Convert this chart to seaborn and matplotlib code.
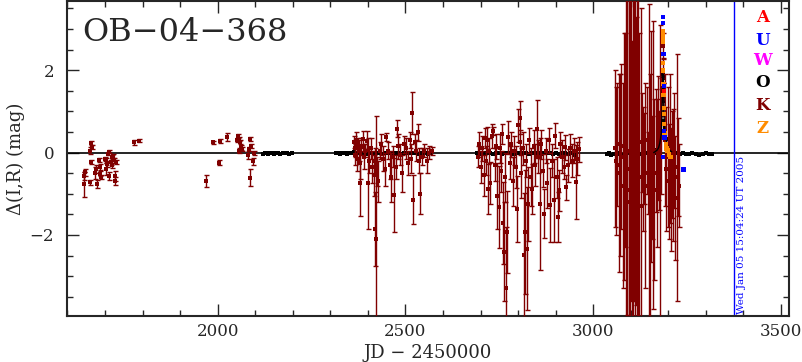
import numpy as np
import pandas as pd
import seaborn as sns
import matplotlib
matplotlib.use('Agg')
import matplotlib.pylab as plt
from matplotlib.ticker import MultipleLocator

# ---- K (dark red) season 1 ----
k1_jd = [1644, 1645, 1646, 1660, 1661, 1662, 1663, 1665, 1674, 1676,
         1680, 1683, 1686, 1687, 1690, 1700, 1702, 1704, 1706, 1709,
         1710, 1712, 1716, 1718, 1720, 1722, 1724, 1726, 1728, 1730,
         1778, 1791]
k1_mag = [-0.77, -0.56, -0.48, -0.72, 0.05, -0.23, 0.23, 0.13, -0.50, -0.40,
          -0.77, -0.19, -0.35, -0.51, -0.60, -0.15, -0.40, -0.19, -0.28, -0.03,
          0.02, -0.57, -0.23, -0.11, -0.31, -0.09, -0.19, -0.57, -0.69, -0.23,
          0.25, 0.29]
k1_err = [0.30, 0.10, 0.08, 0.06, 0.08, 0.05, 0.05, 0.05, 0.15, 0.10,
          0.10, 0.05, 0.08, 0.06, 0.05, 0.05, 0.15, 0.06, 0.08, 0.04,
          0.04, 0.10, 0.06, 0.05, 0.06, 0.05, 0.06, 0.12, 0.10, 0.05,
          0.06, 0.04]

# ---- K season 2 ----
k2_jd = [1969, 1987, 2003, 2006, 2025, 2052, 2055, 2056, 2058, 2060,
         2062, 2064, 2082, 2084, 2085, 2087, 2089, 2094, 2096]
k2_mag = [-0.69, 0.25, -0.25, 0.28, 0.37, 0.30, 0.41, 0.05, 0.33, 0.25,
          0.13, 0.09, -0.05, 0.09, -0.61, 0.33, 0.17, -0.21, 0.00]
k2_err = [0.15, 0.04, 0.06, 0.05, 0.10, 0.05, 0.05, 0.06, 0.05, 0.05,
          0.06, 0.05, 0.10, 0.05, 0.20, 0.06, 0.05, 0.08, 0.05]

# ---- K season 3 ----
k3_jd = [2362, 2365, 2367, 2369, 2371, 2373, 2376, 2378, 2380, 2383,
         2386, 2390, 2393, 2397, 2401, 2404, 2408, 2412, 2415, 2418,
         2420, 2421, 2424, 2428, 2431, 2435, 2440, 2445, 2449, 2453,
         2458, 2462, 2466, 2470, 2474, 2477, 2481, 2486, 2491, 2496,
         2501, 2506, 2511, 2515, 2517, 2521, 2525, 2529, 2533, 2537,
         2539, 2544, 2550, 2557, 2564, 2571]
k3_mag = [0.25, 0.10, -0.05, 0.30, -0.15, 0.20, 0.05, -0.25, -0.75, 0.15,
          0.32, -0.10, 0.05, 0.28, -0.75, -0.20, 0.10, -0.35, -0.55, -0.20,
          -1.85, -2.10, -0.45, -0.70, 0.05, 0.20, -0.15, -0.40, 0.37, 0.05,
          -0.30, -0.60, -0.10, -1.02, -0.35, 0.58, 0.15, -0.05, -0.50, 0.20,
          0.10, -0.25, 0.30, -0.15, 0.96, -1.14, 0.25, 0.05, 0.49, -0.20,
          -1.00, -0.10, 0.05, -0.20, 0.00, 0.03]
k3_err = [0.15, 0.20, 0.25, 0.20, 0.30, 0.15, 0.25, 0.40, 0.80, 0.20,
          0.20, 0.30, 0.15, 0.25, 1.10, 0.30, 0.25, 0.40, 0.50, 0.30,
          0.90, 3.00, 0.35, 0.50, 0.20, 0.25, 0.30, 0.40, 0.10, 0.20,
          0.35, 0.60, 0.25, 0.90, 0.30, 0.20, 0.30, 0.25, 0.45, 0.20,
          0.25, 0.30, 0.20, 0.35, 0.50, 0.60, 0.20, 0.25, 0.20, 0.30,
          0.50, 0.20, 0.15, 0.30, 0.15, 0.10]

# ---- K season 4 ----
k4_jd = [2692, 2696, 2700, 2704, 2708, 2712, 2715, 2717, 2719, 2722,
         2726, 2730, 2734, 2738, 2741, 2745, 2748, 2751, 2754, 2757,
         2760, 2762, 2765, 2768, 2771, 2774, 2778, 2782, 2786, 2790,
         2794, 2798, 2801, 2804, 2806, 2809, 2812, 2815, 2818, 2821,
         2824, 2827, 2830, 2834, 2837, 2841, 2845, 2850, 2854, 2857,
         2861, 2866, 2870, 2874, 2878, 2882, 2886, 2890, 2895, 2899,
         2903, 2905, 2909, 2912, 2917, 2922, 2926, 2928, 2933, 2938,
         2943, 2948, 2953, 2957, 2962]
k4_mag = [-0.10, 0.20, -0.35, 0.10, -0.55, 0.35, -0.20, 0.31, -0.88, 0.05,
          -0.74, 0.40, 0.52, -0.30, 0.15, -1.05, -1.32, 0.10, -0.45, 0.45,
          -1.71, -2.41, -0.60, -3.30, -1.93, 0.37, -0.25, 0.20, -0.70, 0.05,
          -0.35, -1.36, 0.66, 0.85, 0.25, -0.50, 0.10, -2.49, -1.93, -0.20,
          -2.33, -1.24, 0.30, -0.60, -0.88, 0.15, -0.30, 0.57, -0.10, -1.24,
          0.20, -0.44, -1.48, 0.05, -0.75, 0.30, -1.28, -0.20, -1.16, 0.41,
          -0.60, -1.56, -0.92, 0.21, -0.10, -0.35, 0.13, -0.84, -0.31, 0.10,
          -0.20, 0.05, -0.72, -0.15, 0.08]
k4_err = [0.25, 0.30, 0.40, 0.30, 0.50, 0.25, 0.35, 0.30, 0.60, 0.30,
          0.50, 0.30, 0.10, 0.40, 0.30, 0.80, 1.00, 0.35, 0.50, 0.25,
          1.00, 1.20, 0.60, 1.50, 1.00, 0.40, 0.40, 0.30, 0.60, 0.35,
          0.50, 0.80, 0.40, 0.40, 0.30, 0.60, 0.40, 1.50, 1.50, 0.40,
          1.50, 0.90, 0.30, 0.70, 0.60, 0.40, 0.50, 0.70, 0.40, 1.60,
          0.35, 0.40, 0.60, 0.30, 0.60, 0.30, 0.90, 0.40, 1.00, 0.30,
          0.50, 0.60, 0.50, 0.30, 0.40, 0.30, 0.30, 0.30, 0.40, 0.35,
          0.40, 0.30, 0.90, 0.40, 0.30]

# ---- K season 5 ----
k5_jd = [3058, 3061, 3064, 3068, 3072, 3075, 3078, 3081, 3084, 3087,
         3089, 3091, 3094, 3097, 3100, 3103, 3106, 3108, 3111, 3114,
         3117, 3120, 3123, 3126, 3130, 3133, 3136, 3139, 3142, 3145,
         3148, 3151, 3154, 3157, 3160, 3163, 3166, 3169, 3172, 3175,
         3178, 3181, 3185, 3186, 3187, 3192, 3195, 3198, 3201, 3204,
         3207, 3210, 3213, 3216, 3219, 3222, 3225, 3228]
k5_mag = [0.10, -0.20, 0.20, -0.50, -0.30, 0.15, -0.80, -0.10, 0.30, -0.60,
          -1.20, 0.05, -0.40, -0.90, 0.20, -1.50, -0.30, 0.40, -0.70, -0.20,
          -1.00, 0.10, -0.60, -1.30, 0.25, -0.40, -0.15, -0.80, 0.30, -0.50,
          -0.20, -1.10, 0.15, -0.60, -0.30, -0.90, 0.05, -0.50, 0.35, -0.20,
          -0.70, 0.40, 2.60, 1.98, 1.30, 0.30, -0.40, -0.10, -0.70, 0.10,
          -0.90, -0.30, -0.55, 0.05, -1.10, -0.60, -0.35, -0.80]
k5_err = [1.90, 1.80, 1.50, 2.40, 2.20, 2.00, 2.50, 3.00, 2.60, 4.50,
          5.00, 4.00, 4.50, 5.00, 3.80, 4.20, 5.00, 4.00, 4.50, 3.50,
          5.00, 4.20, 3.50, 4.80, 1.20, 1.50, 1.10, 2.50, 1.30, 1.00,
          3.80, 3.00, 2.80, 1.50, 3.50, 2.20, 1.50, 1.80, 1.50, 1.20,
          3.80, 1.40, 0.30, 0.30, 0.40, 1.60, 1.50, 1.70, 1.40, 1.80,
          1.50, 1.30, 1.60, 1.40, 1.50, 3.00, 1.20, 1.00]

# ---- O (black) ----
o2_jd = [2122, 2127, 2133, 2138, 2144, 2150, 2156, 2161, 2167, 2173,
         2179, 2185, 2191, 2197]
o2_mag = [-0.03, -0.01, -0.04, -0.02, 0.00, -0.03, -0.01, -0.02, -0.04, 0.00,
          -0.02, -0.01, -0.03, -0.02]
o3_jd = [2316, 2322, 2327, 2333, 2339, 2345, 2350, 2356, 2362, 2368,
         2375, 2382, 2390, 2398, 2406, 2414, 2422, 2430, 2438, 2446,
         2455, 2463, 2471, 2480, 2488, 2497, 2506, 2515, 2524, 2533,
         2542, 2551, 2560, 2568]
o3_mag = [-0.02, -0.01, -0.03, 0.00, -0.02, -0.04, -0.01, -0.02, 0.01, -0.03,
          -0.02, 0.00, -0.01, -0.03, -0.02, -0.01, 0.00, -0.02, -0.03, -0.01,
          -0.02, 0.00, -0.02, -0.01, -0.03, -0.02, 0.00, -0.01, -0.02, -0.03,
          -0.01, -0.02, -0.04, -0.02]
o4_jd = [2690, 2697, 2704, 2711, 2718, 2725, 2732, 2740, 2748, 2756,
         2764, 2772, 2780, 2788, 2796, 2804, 2812, 2820, 2828, 2836,
         2844, 2852, 2860, 2868, 2876, 2884, 2892, 2900, 2908, 2916,
         2924, 2932, 2940, 2948, 2955]
o4_mag = [-0.02, -0.03, -0.01, -0.02, 0.00, -0.02, -0.03, -0.01, -0.02, -0.04,
          -0.02, 0.00, -0.01, -0.03, -0.02, -0.01, -0.02, 0.00, -0.03, -0.02,
          -0.01, -0.02, -0.03, 0.00, -0.02, -0.01, -0.03, -0.02, -0.04, -0.02,
          -0.01, -0.03, -0.02, -0.05, -0.03]
o5_jd = [3036, 3042, 3048, 3054, 3060, 3066, 3072, 3079, 3086, 3093,
         3100, 3108, 3116, 3124, 3132, 3140, 3148, 3155, 3161, 3166,
         3170, 3174, 3177, 3179, 3181, 3183, 3184, 3185, 3186, 3187,
         3188, 3189, 3190, 3192, 3194, 3197, 3200, 3204, 3209, 3215,
         3222, 3230, 3238, 3246, 3255, 3264, 3273, 3282, 3291, 3300,
         3308, 3316]
o5_mag = [-0.03, -0.02, -0.05, -0.03, -0.04, -0.02, -0.03, -0.05, -0.03, -0.02,
          -0.04, -0.03, -0.02, -0.04, -0.03, -0.02, -0.03, -0.01, 0.00, 0.03,
          0.06, 0.12, 0.22, 0.33, 0.46, 0.94, 1.35, 1.82, 1.90, 1.60,
          1.26, 0.77, 0.60, 0.46, 0.32, 0.21, 0.12, 0.05, 0.02, -0.01,
          -0.02, -0.03, -0.02, -0.04, -0.03, -0.02, -0.03, -0.05, -0.03, -0.02,
          -0.04, -0.03]

# ---- U (blue), Z (orange), A (red) near the peak ----
u_jd = [3185, 3186, 3186.5, 3187, 3188, 3189, 3190, 3240]
u_mag = [-0.11, 3.30, 3.15, 2.40, 1.62, 0.53, 0.37, -0.41]
z_jd = [3186, 3186, 3186.3, 3186.5, 3186.2, 3186.4, 3187, 3187.5, 3188, 3188.5,
        3189, 3190, 3191, 3193, 3195, 3198, 3202, 3206]
z_mag = [2.95, 2.85, 2.78, 2.70, 2.18, 1.99, 1.67, 1.40, 1.09, 0.94,
         0.70, 0.46, 0.35, 0.20, 0.10, 0.05, -0.05, -0.10]
a_jd = [3188]
a_mag = [1.50]

date_jd = 3376
sites = ['A', 'U', 'W', 'O', 'K', 'Z']
colors = {'A': '#ff0000', 'U': '#0000ff', 'W': '#ff00ff',
          'O': '#000000', 'K': '#800000', 'Z': '#ff8c00'}

k_jd = k1_jd + k2_jd + k3_jd + k4_jd + k5_jd
k_mag = k1_mag + k2_mag + k3_mag + k4_mag + k5_mag
k_err = k1_err + k2_err + k3_err + k4_err + k5_err
o_jd = o2_jd + o3_jd + o4_jd + o5_jd
o_mag = o2_mag + o3_mag + o4_mag + o5_mag

df_o = pd.DataFrame({'jd': o_jd, 'mag': o_mag, 'err': 0.03, 'site': 'O'})
df_k = pd.DataFrame({'jd': k_jd, 'mag': k_mag, 'err': k_err, 'site': 'K'})
df_top = pd.concat([
    pd.DataFrame({'jd': z_jd, 'mag': z_mag, 'err': 0.05, 'site': 'Z'}),
    pd.DataFrame({'jd': u_jd, 'mag': u_mag, 'err': 0.03, 'site': 'U'}),
    pd.DataFrame({'jd': a_jd, 'mag': a_mag, 'err': 0.03, 'site': 'A'}),
], ignore_index=True)

sns.set_style('ticks')
plt.rcParams['font.family'] = ['DejaVu Serif']

fig = plt.figure(figsize=(8.03, 3.62), dpi=100)
ax = fig.add_axes([0.083, 0.127, 0.899, 0.870])

ax.axhline(0, color='black', lw=1.2, zorder=1)
ax.axvline(date_jd, color='blue', lw=1.0, zorder=1)

# black OGLE points sit under the noisy dark red ones
sns.scatterplot(data=df_o, x='jd', y='mag', color='black', marker='s', s=8,
                linewidth=0, legend=False, ax=ax, zorder=2)

ax.errorbar(df_k.jd, df_k.mag, yerr=df_k.err, fmt='none', ecolor=colors['K'],
            elinewidth=1.0, capsize=1.8, capthick=1.0, zorder=3)
sns.scatterplot(data=df_k, x='jd', y='mag', color=colors['K'], marker='s', s=12,
                linewidth=0, legend=False, ax=ax, zorder=4)

o_peak = df_o[(df_o.jd > 3160) & (df_o.jd < 3215)]
ax.plot(o_peak.jd, o_peak.mag, color='black', lw=1.0, zorder=5)

sns.scatterplot(data=df_top, x='jd', y='mag', hue='site', palette=colors,
                marker='s', s=10, linewidth=0, legend=False, ax=ax, zorder=6)

ax.set_xlim(1598, 3520)
ax.set_ylim(-3.97, 3.68)
ax.xaxis.set_major_locator(MultipleLocator(500))
ax.xaxis.set_minor_locator(MultipleLocator(100))
ax.yaxis.set_major_locator(MultipleLocator(2))
ax.yaxis.set_minor_locator(MultipleLocator(0.5))
ax.tick_params(which='both', direction='in', top=True, right=True,
               width=1.0, labelsize=12)
ax.tick_params(which='major', length=8.6)
ax.tick_params(which='minor', length=4.5)
ax.tick_params(axis='x', pad=5)
ax.tick_params(axis='y', pad=9)
for sp in ax.spines.values():
    sp.set_linewidth(1.5)

ax.set_xlabel('JD − 2450000', fontsize=13, labelpad=3)
ax.set_ylabel('Δ(I,R) (mag)', fontsize=13, labelpad=3)

ax.text(0.022, 0.95, 'OB−04−368', transform=ax.transAxes, fontsize=23,
        ha='left', va='top')
ax.text(0.9285, 0.005, 'Wed Jan 05 15:04:24 UT 2005', transform=ax.transAxes,
        rotation=90, color='blue', fontsize=7.5, ha='left', va='bottom')

ys = [0.949, 0.876, 0.810, 0.743, 0.670, 0.597]
for s, y in zip(sites, ys):
    ax.text(0.9645, y, s, transform=ax.transAxes, color=colors[s],
            fontsize=12, fontweight='bold', ha='center', va='center')

plt.savefig('out.png', dpi=100)
plt.close()
